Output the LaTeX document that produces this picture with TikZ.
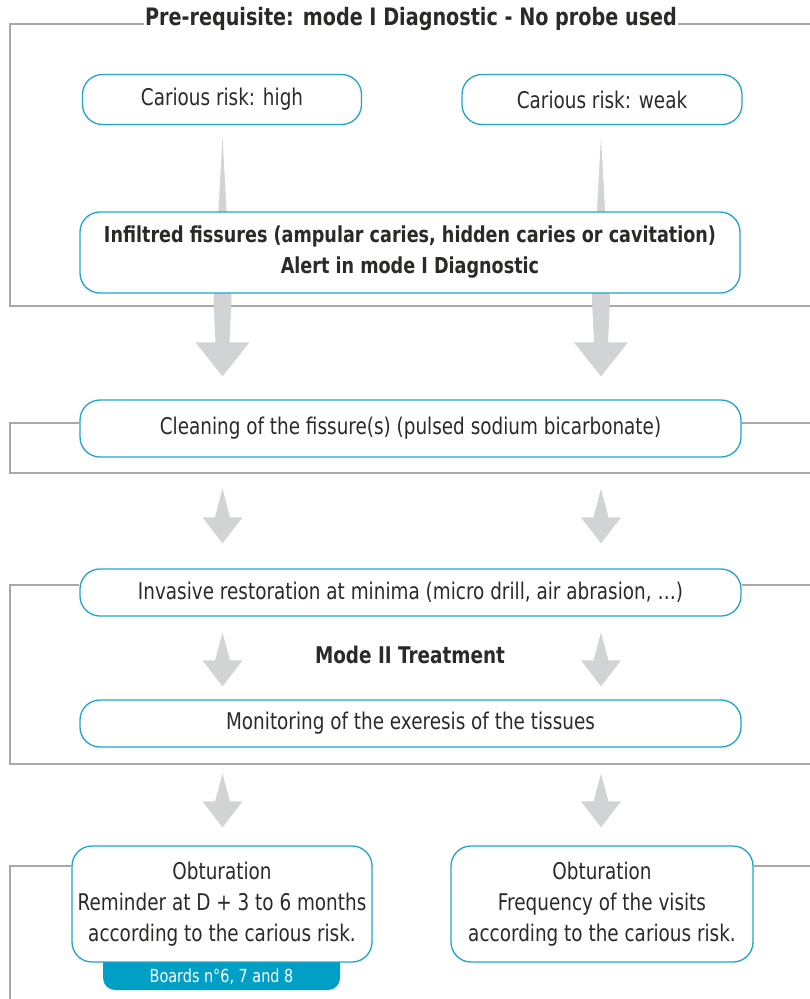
\documentclass[tikz,border=0pt]{standalone}
\usepackage{fontspec}
\setmainfont[FakeStretch=0.8]{DejaVu Sans}
\usetikzlibrary{calc,backgrounds}

\definecolor{boxblue}{HTML}{1FA5CB}
\definecolor{badgeblue}{HTML}{00A0C6}
\definecolor{framegray}{HTML}{A7A8AB}
\definecolor{arrowgray}{HTML}{D2D3D5}
\definecolor{textgray}{HTML}{2B2A29}

% block arrows: #1 = top of the shaft, #2 = tip
\newcommand{\bigarrow}[2]{%
\fill[arrowgray] let \p1=(#1), \p2=(#2) in (\x1,\y1) -- (\x1+9pt,\y2+77pt) -- (\x1+7pt,\y2+34pt) -- (\x1+27pt,\y2+34pt) -- (\x2,\y2) -- (\x1-27pt,\y2+34pt) -- (\x1-7pt,\y2+34pt) -- (\x1-9pt,\y2+77pt) -- cycle;}
\newcommand{\smallarrow}[2]{%
\fill[arrowgray] let \p1=(#1), \p2=(#2) in (\x1,\y1) -- (\x1+7.5pt,\y2+26pt) -- (\x1+20pt,\y2+26pt) -- (\x2,\y2) -- (\x1-20pt,\y2+26pt) -- (\x1-7.5pt,\y2+26pt) -- cycle;}

\begin{document}
\begin{tikzpicture}[x=1pt, y=-1pt,
  stepbox/.style={draw=boxblue, line width=1.3pt, fill=white, rounded corners=20pt, align=center, text=textgray, inner sep=0pt},
  frameline/.style={draw=framegray, line width=2.6pt},
  font=\fontsize{23}{31}\selectfont]
\useasboundingbox (0,0) rectangle (810,999);

\coordinate (colL) at (222.5,0);
\coordinate (colR) at (601,0);
\coordinate (f1) at (10,24);
\coordinate (f2) at (10,423);
\coordinate (f3) at (10,585);
\coordinate (f4) at (10,866);

\node[font=\fontsize{24}{30}\selectfont\bfseries, text=textgray, inner sep=1pt] (title) at (411,19) {Pre-requisite: mode I Diagnostic - No probe used};

\node[stepbox, minimum width=279pt, minimum height=50pt] (high) at (222,99.5) {Carious risk: high};
\node[stepbox, minimum width=280pt, minimum height=50pt] (weak) at (602,99.5) {Carious risk: weak};
\node[stepbox, minimum width=660pt, minimum height=81pt, font=\fontsize{22}{31}\selectfont\bfseries] (infil) at (410,252.5) {Infiltred fissures (ampular caries, hidden caries or cavitation)\\Alert in mode I Diagnostic};
\node[stepbox, minimum width=661pt, minimum height=57pt] (clean) at (410.5,428.5) {Cleaning of the fissure(s) (pulsed sodium bicarbonate)};
\node[stepbox, minimum width=661pt, minimum height=47pt] (invas) at (410.5,592.5) {Invasive restoration at minima (micro drill, air abrasion, …)};
\node[font=\fontsize{23}{31}\selectfont\bfseries, text=textgray] (mode) at (410,655) {Mode II Treatment};
\node[stepbox, minimum width=661pt, minimum height=47pt] (monit) at (410.5,723.5) {Monitoring of the exeresis of the tissues};
\node[stepbox, minimum width=300pt, minimum height=116pt] (obtL) at (222,904) {Obturation\\Reminder at D + 3 to 6 months\\according to the carious risk.};
\node[stepbox, minimum width=302pt, minimum height=116pt] (obtR) at (602,904) {Obturation\\Frequency of the visits\\according to the carious risk.};
\node[text=white, font=\fontsize{18}{22}\selectfont] (badge) at (221.5,976.5) {Boards n°6, 7 and 8};

\begin{scope}[on background layer]
% frames
\draw[frameline] (title.west |- f1) -- (f1) -- (10,306) -- (814,306);
\draw[frameline] (title.east |- f1) -- (814,24);
\draw[frameline] (clean.west |- f2) -- (f2) -- (10,473) -- (814,473);
\draw[frameline] (clean.east |- f2) -- (814,423);
\draw[frameline] (invas.west |- f3) -- (f3) -- (10,764) -- (814,764);
\draw[frameline] (invas.east |- f3) -- (814,585);
\draw[frameline] (obtL.west |- f4) -- (f4) -- (10,1004);
\draw[frameline] (obtR.east |- f4) -- (814,866);
% arrows
\bigarrow{$(colL |- high.south)+(0,12)$}{$(colL |- clean.north)+(0,-23)$}
\bigarrow{$(colR |- weak.south)+(0,12)$}{$(colR |- clean.north)+(0,-23)$}
\smallarrow{$(colL |- clean.south)+(0,31)$}{$(colL |- invas.north)+(0,-25)$}
\smallarrow{$(colR |- clean.south)+(0,31)$}{$(colR |- invas.north)+(0,-25)$}
\smallarrow{$(colL |- invas.south)+(0,16)$}{$(colL |- monit.north)+(0,-13)$}
\smallarrow{$(colR |- invas.south)+(0,16)$}{$(colR |- monit.north)+(0,-13)$}
\smallarrow{$(colL |- monit.south)+(0,26)$}{$(colL |- obtL.north)+(0,-18)$}
\smallarrow{$(colR |- monit.south)+(0,26)$}{$(colR |- obtR.north)+(0,-18)$}
% badge under the left box
\fill[badgeblue, rounded corners=12pt] (103,945) rectangle (340,990);
\end{scope}
\end{tikzpicture}
\end{document}
